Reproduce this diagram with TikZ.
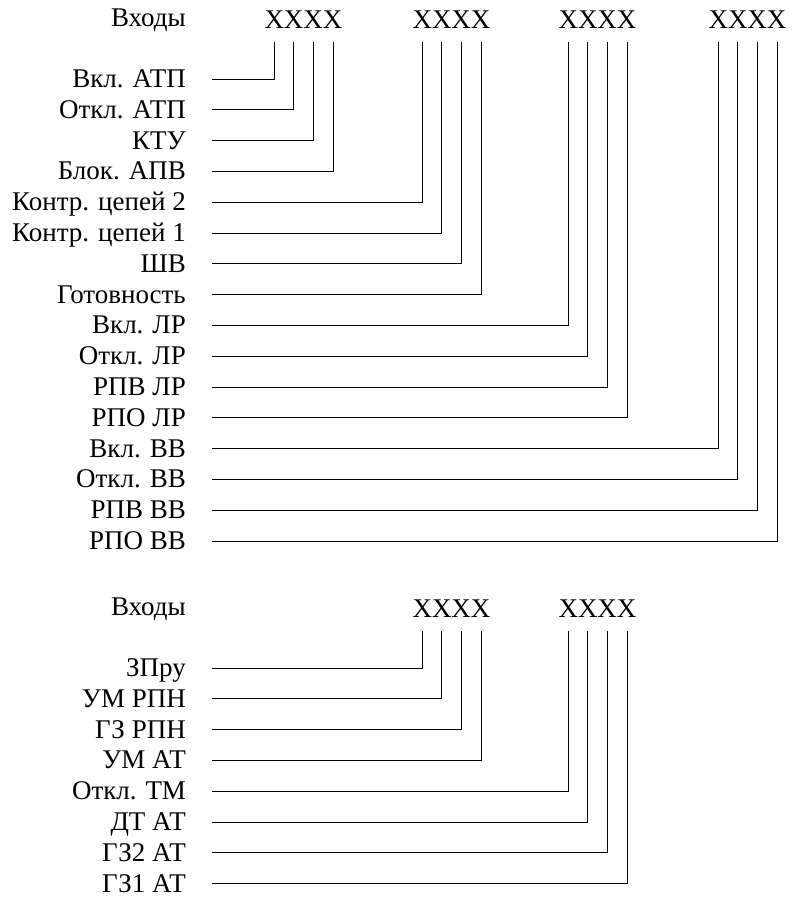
\documentclass[tikz,border=0pt]{standalone}
\usepackage{fontspec}
\setmainfont{Liberation Serif}
\begin{document}
\begin{tikzpicture}[x=1pt,y=-1pt,
  txt/.style={inner sep=0pt, font=\fontsize{27}{32}\selectfont},
  lbl/.style={txt, anchor=base east},
  hdr/.style={txt, anchor=base},
  wire/.style={line width=0.9pt}]
\useasboundingbox (0,0) rectangle (792,897);
% headers top
\node[lbl] (inTop) at (186,26) {Входы};
\foreach \g/\x in {0/274,1/422,2/568,3/718}{
  \node[hdr] (xt\g) at (\x+29.5,28) {XXXX};
}
% top rows
\foreach \t [count=\i from 0] in {Вкл. АТП, Откл. АТП, КТУ, Блок. АПВ, Контр. цепей 2, Контр. цепей 1, ШВ, Готовность, Вкл. ЛР, Откл. ЛР, РПВ ЛР, РПО ЛР, Вкл. ВВ, Откл. ВВ, РПВ ВВ, РПО ВВ}{
  \pgfmathsetmacro{\yy}{79+30.8*\i}
  \pgfmathtruncatemacro{\gg}{int(\i/4)}
  \pgfmathtruncatemacro{\cc}{mod(\i,4)}
  \pgfmathsetmacro{\gx}{{274,422,568,718}[\gg]}
  \pgfmathsetmacro{\xx}{\gx+19.67*\cc}
  \node[lbl] (t\i) at (186,\yy+8.5) {\t};
  \coordinate (ts\i) at (212,\yy);
  \coordinate (tc\i) at (\xx,42);
  \draw[wire] (ts\i) -| (tc\i);
}
% lower headers
\node[lbl] (inBot) at (186,615) {Входы};
\foreach \g/\x in {0/422,1/568}{
  \node[hdr] (xb\g) at (\x+29.5,617) {XXXX};
}
\foreach \t [count=\i from 0] in {ЗПру, УМ РПН, ГЗ РПН, УМ АТ, Откл. ТМ, ДТ АТ, ГЗ2 АТ, ГЗ1 АТ}{
  \pgfmathsetmacro{\yy}{668+30.8*\i}
  \pgfmathtruncatemacro{\gg}{int(\i/4)}
  \pgfmathtruncatemacro{\cc}{mod(\i,4)}
  \pgfmathsetmacro{\gx}{{422,568}[\gg]}
  \pgfmathsetmacro{\xx}{\gx+19.67*\cc}
  \node[lbl] (b\i) at (186,\yy+8.5) {\t};
  \coordinate (bs\i) at (212,\yy);
  \coordinate (bc\i) at (\xx,631);
  \draw[wire] (bs\i) -| (bc\i);
}
\end{tikzpicture}
\end{document}
